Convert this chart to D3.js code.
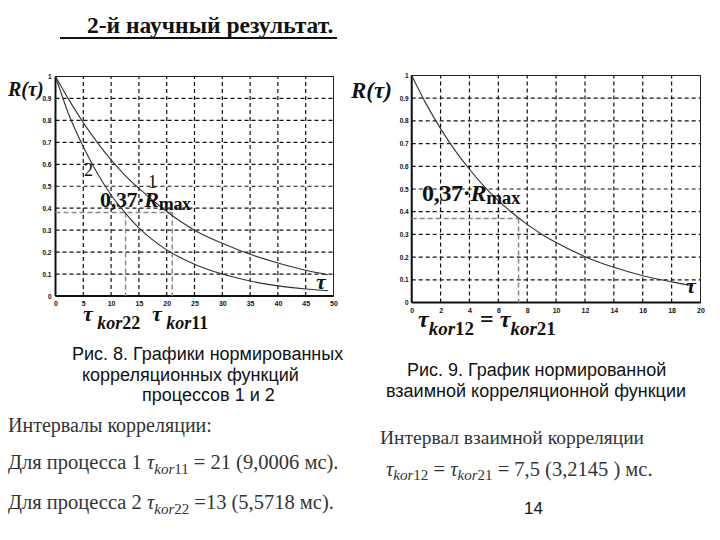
<!DOCTYPE html>
<html><head><meta charset="utf-8">
<script src="https://cdn.jsdelivr.net/npm/d3@7"></script>
<style>html,body{margin:0;padding:0;background:#fff;}svg{display:block;}</style>
</head><body>
<script>
// ---- data ----
const tauLeft = [0,2.5,5,7.5,10,12.5,15,20,25,30,35,40,45,49];
const r11 = [1,0.89,0.79,0.70,0.62,0.55,0.49,0.385,0.30,0.24,0.19,0.15,0.117,0.097];
const r22 = [1,0.82,0.68,0.56,0.46,0.38,0.31,0.21,0.145,0.10,0.068,0.046,0.032,0.024];
const tauRight = [0,1,2,3,4,5,6,7,8,9,10,12,14,16,18,19.5];
const r12 = [1,0.875,0.766,0.67,0.587,0.513,0.449,0.393,0.344,0.301,0.264,0.202,0.155,0.118,0.091,0.074];
const xTicksLeft = [0,5,10,15,20,25,30,35,40,45,50];
const xTicksRight = [0,2,4,6,8,10,12,14,16,18,20];
const yTicks = [0,0.1,0.2,0.3,0.4,0.5,0.6,0.7,0.8,0.9,1];
const levelLeft = 0.38, tauKor11 = 21, tauKor22 = 12.6;
const levelRight = 0.37, tauKor12 = 7.4;

const W = 720, H = 540;
const svg = d3.select("body").append("svg").attr("width", W).attr("height", H);
const SERIF = "'Liberation Serif','Times New Roman',serif";
const SANS = "'Liberation Sans',Arial,sans-serif";

function chart(cfg) {
  const x = d3.scaleLinear().domain(cfg.xDomain).range(cfg.xRange);
  const y = d3.scaleLinear().domain([0,1]).range(cfg.yRange);
  const g = svg.append("g");
  // grid
  g.selectAll(".gx").data(cfg.xTicks.slice(1, -1)).join("line")
    .attr("x1", d => x(d)).attr("x2", d => x(d))
    .attr("y1", y(0)).attr("y2", y(1))
    .attr("stroke", "#111").attr("stroke-width", 1.2).attr("stroke-dasharray", "4,3");
  g.selectAll(".gy").data(yTicks.slice(1, -1)).join("line")
    .attr("y1", d => y(d)).attr("y2", d => y(d))
    .attr("x1", x(cfg.xDomain[0])).attr("x2", x(cfg.xDomain[1]))
    .attr("stroke", "#111").attr("stroke-width", 1.2).attr("stroke-dasharray", "4,3");
  // frame
  g.append("rect").attr("x", x(cfg.xDomain[0])).attr("y", y(1))
    .attr("width", x(cfg.xDomain[1]) - x(cfg.xDomain[0])).attr("height", y(0) - y(1))
    .attr("fill", "none").attr("stroke", "#222").attr("stroke-width", 1);
  g.append("line").attr("x1", x(cfg.xDomain[0])).attr("x2", x(cfg.xDomain[1]))
    .attr("y1", y(0)).attr("y2", y(0)).attr("stroke", "#111").attr("stroke-width", 2);
  g.append("line").attr("x1", x(cfg.xDomain[0])).attr("x2", x(cfg.xDomain[0]))
    .attr("y1", y(0)).attr("y2", y(1)).attr("stroke", "#111").attr("stroke-width", 2);
  // axes
  const ax = g.append("g").attr("transform", `translate(0,${y(0)})`)
    .call(d3.axisBottom(x).tickValues(cfg.xTicks).tickSize(0).tickPadding(cfg.xPad).tickFormat(d3.format("d")));
  ax.select(".domain").remove();
  ax.selectAll("text").attr("font-family", SANS).attr("font-weight", "bold").attr("font-size", 7).attr("fill", "#111");
  const ay = g.append("g").attr("transform", `translate(${x(cfg.xDomain[0])},0)`)
    .call(d3.axisLeft(y).tickValues(yTicks).tickSize(0).tickPadding(cfg.yPad).tickFormat(d => d === 0 ? "0" : d === 1 ? "1" : d3.format(".1f")(d)));
  ay.select(".domain").remove();
  ay.selectAll("text").attr("font-family", SANS).attr("font-weight", "bold").attr("font-size", 6.5).attr("fill", "#111");
  // correlation markers
  cfg.markers.forEach(m => {
    g.append("line").attr("x1", x(0)).attr("x2", x(m.tau)).attr("y1", y(m.level)).attr("y2", y(m.level))
      .attr("stroke", "#888").attr("stroke-width", 1.5).attr("stroke-dasharray", "5,3");
    m.drops.forEach(t => {
      g.append("line").attr("x1", x(t)).attr("x2", x(t)).attr("y1", y(m.level)).attr("y2", y(0))
        .attr("stroke", "#888").attr("stroke-width", 1.5).attr("stroke-dasharray", "5,3");
    });
  });
  // curves
  const line = d3.line().curve(d3.curveMonotoneX).x(d => x(d[0])).y(d => y(d[1]));
  cfg.series.forEach(s => {
    g.append("path").datum(cfg.tau.map((t, i) => [t, s[i]])).attr("d", line)
      .attr("fill", "none").attr("stroke", "#333").attr("stroke-width", 1.1);
  });
  return {x, y};
}

chart({xDomain:[0,50], xRange:[55.5,333.5], yRange:[296,76.5], xTicks:xTicksLeft, xPad:5, yPad:4,
  tau: tauLeft, series:[r11, r22],
  markers:[{level:levelLeft, tau:tauKor11, drops:[tauKor22, tauKor11]}]});
chart({xDomain:[0,20], xRange:[411.7,700.5], yRange:[302.5,75.5], xTicks:xTicksRight, xPad:6, yPad:3,
  tau: tauRight, series:[r12],
  markers:[{level:levelRight, tau:tauKor12, drops:[tauKor12]}]});

// ---- chart annotations ----
function rich(x, y, parts, size, extra) {
  const t = svg.append("text").attr("x", x).attr("y", y).attr("font-family", SERIF)
    .attr("font-size", size).attr("fill", "#111");
  if (extra) extra(t);
  parts.forEach(p => {
    const ts = t.append("tspan").text(p.t);
    if (p.it) ts.attr("font-style", "italic");
    if (p.b) ts.attr("font-weight", "bold");
    if (p.s) ts.attr("font-size", p.s);
    if (p.dy) ts.attr("dy", p.dy);
  });
  return t;
}
// left chart labels
rich(8, 96, [{t:"R(", it:1, b:1},{t:"τ", it:1, b:1},{t:")", it:1, b:1}], 20);
rich(84, 176, [{t:"2"}], 18);
rich(148, 188, [{t:"1"}], 18);
rich(100, 207, [{t:"0,37·", b:1},{t:"R", it:1, b:1},{t:"max", b:1, s:18, dy:3}], 22, t => t.attr("letter-spacing", -0.3));
rich(316, 289, [{t:"τ", it:1, b:1}], 22);
rich(83, 321, [{t:"τ", it:1, b:1},{t:" kor", it:1, b:1, s:18, dy:8},{t:"22", b:1, s:18}], 22);
rich(152, 321, [{t:"τ", it:1, b:1},{t:" kor", it:1, b:1, s:18, dy:8},{t:"11", b:1, s:18}], 22);
// right chart labels
rich(351, 98, [{t:"R(", it:1, b:1},{t:"τ", it:1, b:1},{t:")", it:1, b:1}], 23);
rich(422, 201, [{t:"0,37·", b:1},{t:"R", it:1, b:1},{t:"max", b:1, s:19, dy:3}], 24, t => t.attr("letter-spacing", -0.3));
rich(686, 293, [{t:"τ", it:1, b:1}], 22);
rich(418, 327, [{t:"τ", it:1, b:1},{t:"kor", it:1, b:1, s:19, dy:8},{t:"12", b:1, s:19},{t:" = ", b:1, s:24, dy:-8},{t:"τ", it:1, b:1},{t:"kor", it:1, b:1, s:19, dy:8},{t:"21", b:1, s:19}], 24);

// ---- title ----
svg.append("text").attr("x", 87).attr("y", 33).attr("font-family", SERIF).attr("font-weight", "bold")
  .attr("font-size", 23.5).attr("fill", "#111").text("2-й научный результат.");
svg.append("line").attr("x1", 60).attr("x2", 337).attr("y1", 38).attr("y2", 38).attr("stroke", "#111").attr("stroke-width", 1.8);

// ---- captions ----
function sans(x, y, txt, size) {
  svg.append("text").attr("x", x).attr("y", y).attr("font-family", SANS).attr("font-size", size || 16)
    .attr("fill", "#111").text(txt);
}
sans(72, 360, "Рис. 8. Графики нормированных", 18);
sans(82, 381, "корреляционных функций", 18);
sans(142, 401, "процессов 1 и 2", 18);
sans(407, 376, "Рис. 9. График нормированной", 18);
sans(386, 397, "взаимной корреляционной функции", 18);
sans(524, 514, "14", 17);

// ---- interval notes ----
rich(8, 432, [{t:"Интервалы корреляции:"}], 20, t => t.attr("fill", "#333"));
rich(8, 469, [{t:"Для процесса 1  "},{t:"τ", it:1},{t:"kor", it:1, s:15, dy:5},{t:"11", s:15},{t:" = 21 (9,0006 мс).", dy:-5}], 20.5, t => t.attr("fill", "#333"));
rich(8, 509, [{t:"Для процесса 2  "},{t:"τ", it:1},{t:"kor", it:1, s:15, dy:5},{t:"22", s:15},{t:" =13  (5,5718 мс).", dy:-5}], 20.5, t => t.attr("fill", "#333"));
rich(380, 444, [{t:"Интервал  взаимной корреляции"}], 19.5, t => t.attr("fill", "#333"));
rich(386, 476, [{t:"τ", it:1},{t:"kor", it:1, s:15, dy:4},{t:"12", s:15},{t:" = ", dy:-4},{t:"τ", it:1},{t:"kor", it:1, s:15, dy:4},{t:"21", s:15},{t:" = 7,5  (3,2145 ) мс.", dy:-4}], 20.5, t => t.attr("fill", "#333"));
</script>
</body></html>
